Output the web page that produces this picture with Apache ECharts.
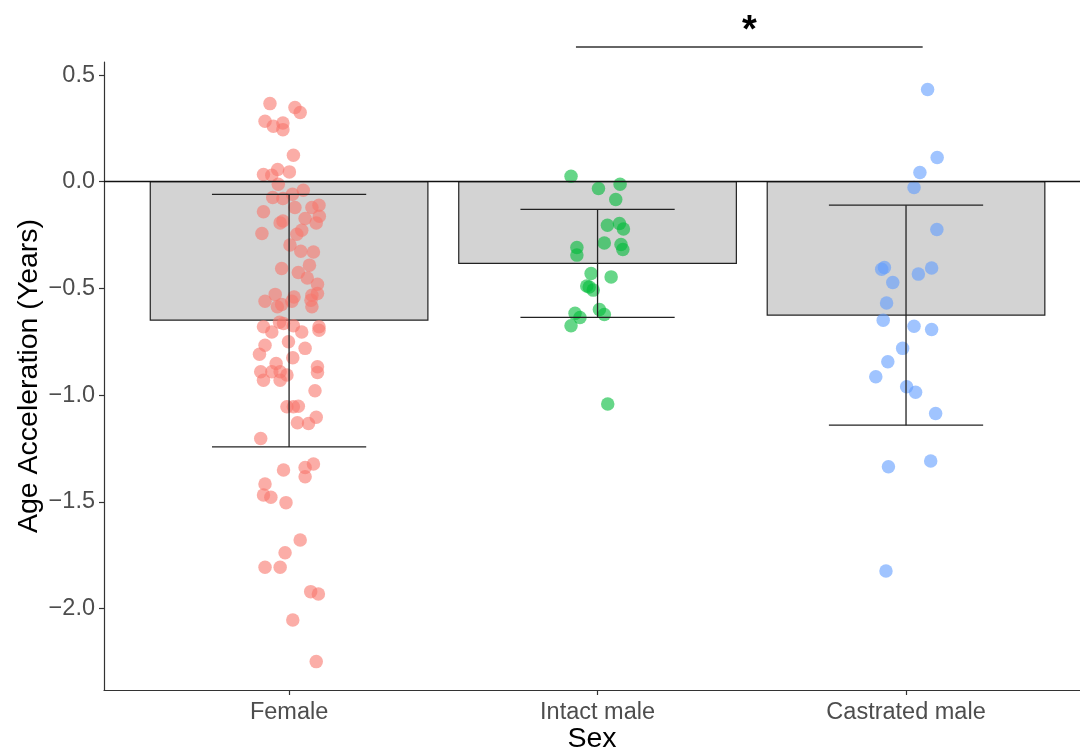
<!DOCTYPE html>
<html>
<head>
<meta charset="utf-8">
<script src="https://cdn.jsdelivr.net/npm/echarts@6/dist/echarts.min.js"></script>
<style>
html,body{margin:0;padding:0;background:#fff;}
#c{width:1080px;height:753px;}
</style>
</head>
<body>
<div id="c"></div>
<script>
// ---- data ----
var categories = ['Female', 'Intact male', 'Castrated male'];
var catPos = [1, 2, 3];
var means = [-0.649, -0.383, -0.625];
var errHigh = [-0.059, -0.130, -0.110];
var errLow = [-1.243, -0.636, -1.141];
var yTicks = [-2.0, -1.5, -1.0, -0.5, 0.0, 0.5];

var femaleX = [0.938,1.019,1.036,0.922,0.949,0.980,0.980,1.014,0.917,0.944,0.963,1.001,0.965,1.046,1.011,0.947,0.980,0.917,1.019,1.074,1.097,1.098,1.052,0.980,0.971,1.088,1.041,0.912,1.025,1.003,1.038,1.079,1.066,0.976,1.030,1.059,1.092,0.922,0.955,0.962,0.976,1.016,1.009,1.074,1.092,1.074,1.071,0.917,0.944,0.969,0.982,1.014,1.041,1.097,1.097,0.998,0.922,0.904,1.052,1.012,0.958,0.908,0.944,0.971,0.993,1.092,1.092,0.917,0.971,1.084,0.993,1.014,1.030,1.027,1.063,1.088,0.908,0.982,1.052,1.079,1.052,0.922,0.917,0.941,0.990,1.036,0.987,0.922,0.971,1.070,1.095,1.012,1.088];
var femaleY = [0.366,0.348,0.324,0.283,0.260,0.275,0.244,0.124,0.034,0.030,0.057,0.046,-0.012,-0.040,-0.059,-0.074,-0.079,-0.141,-0.121,-0.121,-0.110,-0.162,-0.172,-0.184,-0.193,-0.193,-0.227,-0.243,-0.246,-0.297,-0.326,-0.329,-0.391,-0.407,-0.425,-0.451,-0.481,-0.560,-0.528,-0.586,-0.575,-0.540,-0.560,-0.532,-0.524,-0.586,-0.555,-0.680,-0.704,-0.659,-0.664,-0.675,-0.704,-0.680,-0.696,-0.750,-0.766,-0.809,-0.781,-0.825,-0.852,-0.891,-0.891,-0.891,-0.906,-0.867,-0.894,-0.930,-0.930,-0.980,-1.055,-1.055,-1.052,-1.130,-1.133,-1.104,-1.203,-1.351,-1.339,-1.323,-1.383,-1.417,-1.468,-1.479,-1.504,-1.679,-1.739,-1.807,-1.807,-1.921,-1.932,-2.054,-2.249];

var intactX = [1.914,2.003,2.073,2.059,2.032,2.071,2.084,2.022,2.076,2.082,1.933,1.933,1.979,2.044,1.965,1.973,1.986,2.006,2.022,1.927,1.943,1.914,2.033];
var intactY = [0.026,-0.032,-0.012,-0.083,-0.204,-0.196,-0.222,-0.287,-0.294,-0.318,-0.308,-0.344,-0.430,-0.446,-0.489,-0.493,-0.508,-0.599,-0.622,-0.617,-0.636,-0.675,-1.042];

var castratedX = [3.070,3.101,3.045,3.026,3.100,2.930,2.921,3.083,2.957,3.040,2.937,2.926,3.026,3.083,2.989,2.941,2.902,3.002,3.031,3.096,2.943,3.080,2.935];
var castratedY = [0.432,0.113,0.043,-0.027,-0.224,-0.402,-0.410,-0.404,-0.472,-0.433,-0.568,-0.649,-0.677,-0.693,-0.781,-0.844,-0.914,-0.961,-0.987,-1.086,-1.336,-1.309,-1.824];

var sigFrom = [1.930];
var sigTo = [3.054];
var sigY = [0.631];
var sigLabel = ['*'];

// ---- chart ----
function zip(xs, ys) { return xs.map(function (x, i) { return [x, ys[i]]; }); }
var FONT = '"Liberation Sans", Arial, Helvetica, sans-serif';
var BAR_W = 0.9, CAP_W = 0.5;

var chart = echarts.init(document.getElementById('c'), null, { renderer: 'canvas' });

var barData = catPos.map(function (p, i) { return [p, means[i]]; });
var errData = catPos.map(function (p, i) { return [p, errLow[i], errHigh[i]]; });
var sigData = sigFrom.map(function (f, i) { return [f, sigTo[i], sigY[i]]; });

function scatterSeries(name, xs, ys, color) {
  return {
    name: name, type: 'scatter', data: zip(xs, ys), symbol: 'circle', symbolSize: 13.5,
    itemStyle: { color: color, opacity: 0.6 }, z: 3, silent: true
  };
}

var option = {
  animation: false,
  backgroundColor: '#ffffff',
  grid: { left: 104, right: 0, top: 62, bottom: 63, containLabel: false, outerBoundsMode: 'none' },
  xAxis: {
    type: 'value', min: 0.4, max: 3.564,
    splitLine: { show: false },
    axisLine: { show: true, onZero: false, lineStyle: { color: '#333', width: 1.2 } },
    axisTick: { show: true, customValues: catPos, length: 5, lineStyle: { color: '#333', width: 1.2 } },
    axisLabel: {
      customValues: catPos, margin: 11, color: '#4D4D4D', fontSize: 23.5, fontFamily: FONT,
      formatter: function (v) { var i = catPos.indexOf(Math.round(v)); return i >= 0 ? categories[i] : ''; }
    },
    name: 'Sex', nameLocation: 'middle', nameGap: 35, nameMoveOverlap: false,
    nameTextStyle: { color: '#000', fontSize: 28.5, fontFamily: FONT }
  },
  yAxis: {
    type: 'value', min: -2.382, max: 0.561,
    splitLine: { show: false },
    axisLine: { show: true, onZero: false, lineStyle: { color: '#333', width: 1.2 } },
    axisTick: { show: true, customValues: yTicks, length: 5, lineStyle: { color: '#333', width: 1.2 } },
    axisLabel: {
      customValues: yTicks, margin: 9, color: '#4D4D4D', fontSize: 23.5, fontFamily: FONT,
      formatter: function (v) { return (v < 0 ? '\u2212' : '') + Math.abs(v).toFixed(1); }
    },
    name: 'Age Acceleration (Years)', nameLocation: 'middle', nameGap: 60, nameRotate: 90, nameMoveOverlap: false,
    nameTextStyle: { color: '#000', fontSize: 28.5, fontFamily: FONT }
  },
  series: [
    {
      type: 'custom', name: 'bars', z: 1, silent: true,
      data: barData,
      renderItem: function (params, api) {
        var x = api.value(0), m = api.value(1);
        var p1 = api.coord([x - BAR_W / 2, 0]);
        var p2 = api.coord([x + BAR_W / 2, m]);
        return {
          type: 'rect',
          shape: { x: p1[0], y: Math.min(p1[1], p2[1]), width: p2[0] - p1[0], height: Math.abs(p2[1] - p1[1]) },
          style: { fill: '#D3D3D3', stroke: '#222', lineWidth: 1.2 }
        };
      }
    },
    scatterSeries(categories[0], femaleX, femaleY, '#F8766D'),
    scatterSeries(categories[1], intactX, intactY, '#00BA38'),
    scatterSeries(categories[2], castratedX, castratedY, '#619CFF'),
    {
      type: 'custom', name: 'errors', z: 4, silent: true,
      data: errData,
      renderItem: function (params, api) {
        var x = api.value(0), lo = api.value(1), hi = api.value(2);
        var a = api.coord([x, lo]), b = api.coord([x, hi]);
        var l1 = api.coord([x - CAP_W / 2, lo]), r1 = api.coord([x + CAP_W / 2, lo]);
        var l2 = api.coord([x - CAP_W / 2, hi]), r2 = api.coord([x + CAP_W / 2, hi]);
        var st = { stroke: '#222', lineWidth: 1.3 };
        return {
          type: 'group', children: [
            { type: 'line', shape: { x1: a[0], y1: a[1], x2: b[0], y2: b[1] }, style: st },
            { type: 'line', shape: { x1: l1[0], y1: l1[1], x2: r1[0], y2: r1[1] }, style: st },
            { type: 'line', shape: { x1: l2[0], y1: l2[1], x2: r2[0], y2: r2[1] }, style: st }
          ]
        };
      },
      markLine: {
        silent: true, symbol: ['none', 'none'], label: { show: false },
        lineStyle: { color: '#111', width: 1.3, type: 'solid' },
        data: [{ yAxis: 0 }]
      }
    },
    {
      type: 'custom', name: 'signif', z: 5, silent: true, clip: false,
      data: sigData,
      renderItem: function (params, api) {
        var f = api.value(0), t = api.value(1), y = api.value(2);
        var a = api.coord([f, y]), b = api.coord([t, y]);
        var mid = api.coord([(f + t) / 2, y]);
        return {
          type: 'group', children: [
            { type: 'line', shape: { x1: a[0], y1: a[1], x2: b[0], y2: b[1] }, style: { stroke: '#333', lineWidth: 1.4 } },
            { type: 'text', x: mid[0], y: mid[1] + 3,
              style: { text: sigLabel[params.dataIndex], fill: '#000', font: 'bold 38px ' + FONT, align: 'center', verticalAlign: 'bottom' } }
          ]
        };
      }
    }
  ]
};
chart.setOption(option);
</script>
</body>
</html>
